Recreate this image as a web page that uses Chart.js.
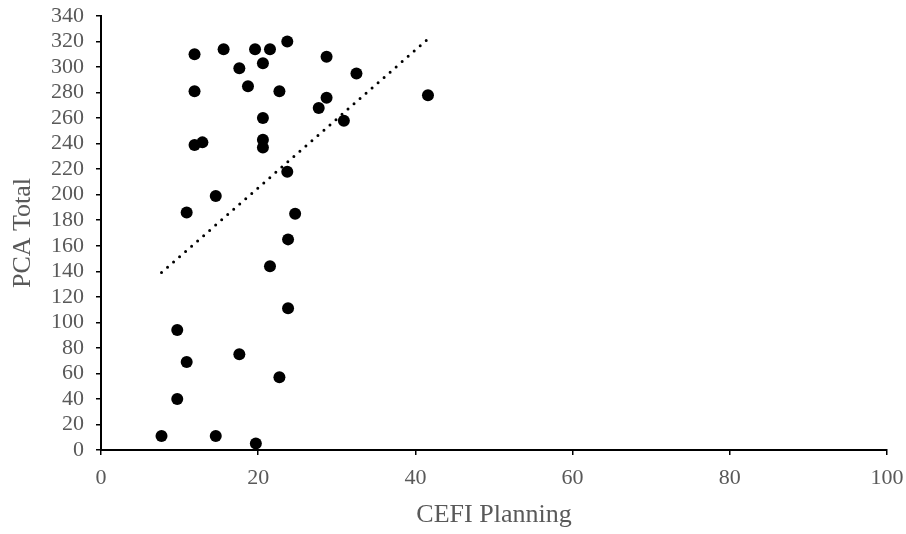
<!DOCTYPE html>
<html>
<head>
<meta charset="utf-8">
<script src="https://cdn.jsdelivr.net/npm/chart.js@4/dist/chart.umd.min.js"></script>
<style>
  html, body { margin: 0; padding: 0; background: #ffffff; }
  #wrap { width: 906px; height: 534px; }
</style>
</head>
<body>
<div id="wrap"><canvas id="c" width="906" height="534"></canvas></div>
<script>
// Data
const cefiPlanning = [11.9, 15.6, 19.6, 21.5, 23.7, 28.7, 17.6, 20.6, 32.5, 11.9, 18.7, 22.7, 41.6, 28.7, 27.7, 30.9, 20.6, 11.9, 12.9, 20.6, 20.6, 23.7, 14.6, 10.9, 24.7, 23.8, 21.5, 23.8, 9.7, 17.6, 10.9, 22.7, 9.7, 7.7, 14.6, 19.7];
const pcaTotal     = [310, 314, 314, 314, 320, 308, 299, 303, 295, 281, 285, 281, 278, 276, 268, 258, 260, 239, 241, 243, 237, 218, 199, 186, 185, 165, 144, 111, 94, 75, 69, 57, 40, 11, 11, 5];
const trendX = [7.7, 41.6];
const trendY = [139, 322];
const xTicks = [0, 20, 40, 60, 80, 100];
const yTicks = [0, 20, 40, 60, 80, 100, 120, 140, 160, 180, 200, 220, 240, 260, 280, 300, 320, 340];
const xTitle = 'CEFI Planning';
const yTitle = 'PCA Total';

const points = cefiPlanning.map((x, i) => ({ x: x, y: pcaTotal[i] }));
const trend = trendX.map((x, i) => ({ x: x, y: trendY[i] }));

const serif = "'Liberation Serif', 'Times New Roman', serif";
const grey = '#595959';

function zeroPad(s) {
  s.paddingLeft = 0; s.paddingRight = 0; s.paddingTop = 0; s.paddingBottom = 0;
}

new Chart(document.getElementById('c'), {
  type: 'scatter',
  data: {
    datasets: [
      {
        label: 'Points',
        data: points,
        backgroundColor: '#000000',
        borderColor: '#000000',
        borderWidth: 0,
        pointRadius: 6,
        pointHoverRadius: 6
      },
      {
        label: 'Trend',
        data: trend,
        showLine: true,
        borderColor: '#000000',
        borderWidth: 3,
        borderDash: [0, 8],
        borderCapStyle: 'round',
        pointRadius: 0,
        pointHoverRadius: 0,
        fill: false
      }
    ]
  },
  options: {
    responsive: false,
    animation: false,
    events: [],
    layout: { padding: { top: 16, right: 19, left: 0, bottom: 0 } },
    plugins: { legend: { display: false }, tooltip: { enabled: false } },
    scales: {
      x: {
        type: 'linear',
        min: 0, max: 100,
        afterBuildTicks: (s) => { s.ticks = xTicks.map(v => ({ value: v })); },
        afterFit: (s) => { s.height = 84; zeroPad(s); },
        ticks: { color: grey, font: { family: serif, size: 22 }, padding: 10, maxRotation: 0, autoSkip: false },
        grid: { drawOnChartArea: false, drawTicks: true, tickLength: 5, color: '#000000', lineWidth: 1.5 },
        border: { display: true, color: '#000000', width: 2 },
        title: { display: true, text: xTitle, color: grey, font: { family: serif, size: 26 }, padding: { top: 0, bottom: 3 } }
      },
      y: {
        type: 'linear',
        min: 0, max: 340,
        afterBuildTicks: (s) => { s.ticks = yTicks.map(v => ({ value: v })); },
        afterFit: (s) => { s.width = 101; zeroPad(s); },
        ticks: { color: grey, font: { family: serif, size: 22 }, padding: 12, autoSkip: false },
        grid: { drawOnChartArea: false, drawTicks: true, tickLength: 5, color: '#000000', lineWidth: 1.5 },
        border: { display: true, color: '#000000', width: 2 },
        title: { display: true, text: yTitle, color: grey, font: { family: serif, size: 26 }, padding: { top: 8, bottom: 0 } }
      }
    }
  }
});
</script>
</body>
</html>
